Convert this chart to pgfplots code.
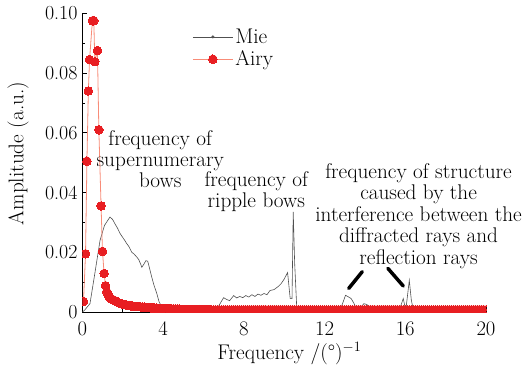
\documentclass[border=0pt]{standalone}
\usepackage{pgfplots}
\pgfplotsset{compat=1.18}
\definecolor{airyred}{RGB}{232,30,34}
\definecolor{airyline}{RGB}{248,140,120}
\definecolor{miegray}{RGB}{80,80,80}
\newcommand{\bigf}{\fontsize{21.3}{21.5}\selectfont}
\newcommand{\tickf}{\fontsize{20}{22}\selectfont}
\begin{document}
\begin{tikzpicture}
\useasboundingbox (-82.3bp,-58bp) rectangle (443.7bp,312bp);
\begin{axis}[
  at={(0,0)}, anchor=south west,
  scale only axis, width=403.7bp, height=298.7bp,
  xmin=0, xmax=20, ymin=0, ymax=0.1,
  axis x line*=bottom, axis y line*=left,
  axis line style={line width=1bp, black},
  tick align=inside,
  xtick={0,4,8,12,16,20}, minor xtick={2,6,10,14,18},
  ytick={0,0.02,0.04,0.06,0.08,0.1},
  yticklabels={0,0.02,0.04,0.06,0.08,0.10},
  minor ytick={0.01,0.03,0.05,0.07,0.09},
  scaled y ticks=false,
  major tick length=5bp, minor tick length=3bp,
  tick style={line width=0.8bp, black},
  ticklabel style={font=\tickf},
  yticklabel style={anchor=east, inner sep=0pt, xshift=-4.6bp},
  xticklabel style={anchor=base, inner sep=0pt, yshift=-23bp},
  xlabel={Frequency /(\textdegree)$^{-1}$},
  xlabel style={at={(axis description cs:0.5,0)}, anchor=base, inner sep=0pt, xshift=5.3bp, yshift=-47.3bp, font=\bigf},
  ylabel={Amplitude (a.u.)},
  ylabel style={at={(axis description cs:-0.1593,0.5306)}, anchor=center, inner sep=0pt, font=\bigf},
  clip mode=individual, clip marker paths=true,
  legend style={draw=none, fill=none, at={(axis cs:5.45,0.0955)}, anchor=north west, font=\bigf, inner sep=0pt, row sep=2bp, nodes={inner sep=2bp}},
  legend cell align=left,
  legend image code/.code={\draw[mark repeat=2,mark phase=2,#1] plot coordinates {(0bp,0bp) (20bp,0bp) (40bp,0bp)};},
]
\addplot[miegray, line width=0.6bp, forget plot] coordinates {
(0,0) (0.1,0.0005) (0.38,0.0028) (0.6,0.012) (0.88,0.024) (1.1,0.029) (1.37,0.0318)
(1.5,0.031) (1.62,0.0295) (1.75,0.028) (1.87,0.0263) (2.0,0.025) (2.1,0.024) (2.2,0.0229)
(2.3,0.022) (2.45,0.020) (2.55,0.0195) (2.7,0.0184) (2.8,0.0175) (2.88,0.0162) (2.95,0.015)
(3.05,0.016) (3.15,0.0172) (3.24,0.017) (3.3,0.0155) (3.44,0.0117) (3.55,0.009) (3.69,0.0062)
(3.8,0.0035) (3.94,0.0017) (4.05,0.0005) (4.2,0) (5.6,0) (5.8,0.0022) (5.95,0.0012) (6.1,0)
(6.6,0) (6.8,0.0025) (7.0,0.0048) (7.15,0.0042) (7.3,0.0038) (7.5,0.0055) (7.65,0.0047)
(7.8,0.0052) (7.95,0.0048) (8.1,0.0055) (8.25,0.005) (8.4,0.0058) (8.55,0.0052) (8.7,0.006)
(8.85,0.0056) (9.0,0.0062) (9.15,0.0058) (9.3,0.0072) (9.5,0.0075) (9.7,0.0085) (9.85,0.0095)
(10.0,0.011) (10.17,0.0132) (10.3,0.0045) (10.39,0.0045) (10.45,0.0335) (10.52,0.0165)
(10.62,0.002) (10.7,0) (12.7,0) (12.85,0.002) (13.04,0.0056) (13.2,0.005) (13.32,0.0045)
(13.45,0.003) (13.55,0.0015) (13.75,0.0012) (13.95,0.0028) (14.1,0.0025) (14.25,0.0012)
(14.5,0) (14.8,0.0015) (15.5,0.0015) (15.7,0.0008) (15.8,0.0025) (15.9,0.0045) (15.98,0.002)
(16.05,0.002) (16.2,0.0106) (16.3,0.004) (16.42,0) (20,0)
};
\addlegendimage{miegray, line width=0.6bp, mark=*, mark size=1.2bp}
\addlegendentry{Mie}
\addplot[airyline, line width=0.8bp, mark=*, mark size=4.3bp, mark options={fill=airyred, draw=airyred, line width=0pt}] coordinates {
(0.06,0.0035) (0.16,0.0195) (0.23,0.0505) (0.30,0.0740) (0.36,0.0845) (0.50,0.0975)
(0.57,0.0975) (0.62,0.0838) (0.75,0.0875) (0.82,0.0610) (0.93,0.0355) (1.00,0.0203)
(1.08,0.0129) (1.15,0.0088) (1.21,0.0068) (1.27,0.0058) (1.33,0.0051) (1.40,0.0046)
(1.47,0.0043) (1.55,0.0040) (1.63,0.0037) (1.71,0.0034) (1.80,0.0031) (1.90,0.0028)
(2.00,0.0026) (2.10,0.0025) (2.2,0.0023) (2.3,0.0022) (2.4,0.0021) (2.5,0.0020)
(2.6,0.0019) (2.7,0.0018) (2.8,0.0018) (2.9,0.0017) (3.0,0.0016) (3.1,0.0016)
(3.2,0.0015) (3.3,0.0015) (3.4,0.0014) (3.5,0.0014) (3.6,0.0013) (3.7,0.0013)
(3.8,0.0012) (3.9,0.0012) (4.0,0.0012) (4.1,0.0011) (4.2,0.0011) (4.3,0.0011)
(4.4,0.0011) (4.5,0.0010) (4.6,0.0010) (4.7,0.0010) (4.8,0.0010) (4.9,0.0009)
(5.0,0.0009) (5.1,0.0009) (5.2,0.0009) (5.3,0.0009) (5.4,0.0009) (5.5,0.0008)
(5.6,0.0008) (5.7,0.0008) (5.8,0.0008) (5.9,0.0008) (6.0,0.0008) (6.1,0.0008)
(6.2,0.0008) (6.3,0.0008) (6.4,0.0007) (6.5,0.0007) (6.6,0.0007) (6.7,0.0007)
(6.8,0.0007) (6.9,0.0007) (7.0,0.0007) (7.1,0.0007) (7.2,0.0007) (7.3,0.0007)
(7.4,0.0007) (7.5,0.0007) (7.6,0.0007) (7.7,0.0007) (7.8,0.0007) (7.9,0.0007)
(8.0,0.0007) (8.1,0.0007) (8.2,0.0007) (8.3,0.0007) (8.4,0.0007) (8.5,0.0007)
(8.6,0.0007) (8.7,0.0007) (8.8,0.0007) (8.9,0.0007) (9.0,0.0007) (9.1,0.0007)
(9.2,0.0007) (9.3,0.0007) (9.4,0.0007) (9.5,0.0007) (9.6,0.0007) (9.7,0.0007)
(9.8,0.0007) (9.9,0.0007) (10.0,0.0007) (10.1,0.0007) (10.2,0.0007) (10.3,0.0007)
(10.4,0.0007) (10.5,0.0007) (10.6,0.0007) (10.7,0.0007) (10.8,0.0007) (10.9,0.0007)
(11.0,0.0007) (11.1,0.0007) (11.2,0.0007) (11.3,0.0007) (11.4,0.0007) (11.5,0.0007)
(11.6,0.0007) (11.7,0.0007) (11.8,0.0007) (11.9,0.0007) (12.0,0.0007) (12.1,0.0007)
(12.2,0.0007) (12.3,0.0007) (12.4,0.0007) (12.5,0.0007) (12.6,0.0007) (12.7,0.0007)
(12.8,0.0007) (12.9,0.0007) (13.0,0.0007) (13.1,0.0007) (13.2,0.0007) (13.3,0.0007)
(13.4,0.0007) (13.5,0.0007) (13.6,0.0007) (13.7,0.0007) (13.8,0.0007) (13.9,0.0007)
(14.0,0.0007) (14.1,0.0007) (14.2,0.0007) (14.3,0.0007) (14.4,0.0007) (14.5,0.0007)
(14.6,0.0007) (14.7,0.0007) (14.8,0.0007) (14.9,0.0007) (15.0,0.0007) (15.1,0.0007)
(15.2,0.0007) (15.3,0.0007) (15.4,0.0007) (15.5,0.0007) (15.6,0.0007) (15.7,0.0007)
(15.8,0.0007) (15.9,0.0007) (16.0,0.0007) (16.1,0.0007) (16.2,0.0007) (16.3,0.0007)
(16.4,0.0007) (16.5,0.0007) (16.6,0.0007) (16.7,0.0007) (16.8,0.0007) (16.9,0.0007)
(17.0,0.0007) (17.1,0.0007) (17.2,0.0007) (17.3,0.0007) (17.4,0.0007) (17.5,0.0007)
(17.6,0.0007) (17.7,0.0007) (17.8,0.0007) (17.9,0.0007) (18.0,0.0007) (18.1,0.0007)
(18.2,0.0007) (18.3,0.0007) (18.4,0.0007) (18.5,0.0007) (18.6,0.0007) (18.7,0.0007)
(18.8,0.0007) (18.9,0.0007) (19.0,0.0007) (19.1,0.0007) (19.2,0.0007) (19.3,0.0007)
(19.4,0.0007) (19.5,0.0007) (19.6,0.0007) (19.7,0.0007) (19.8,0.0007) (19.9,0.0007)
(20.0,0.0007)
};
\addlegendentry{Airy}
\node[align=center, font=\bigf, inner sep=0pt] at (axis cs:3.86,0.0512) {frequency of\\supernumerary\\bows};
\node[align=center, font=\bigf, inner sep=0pt] at (axis cs:8.62,0.0403) {frequency of\\ripple bows};
\node[align=center, font=\bigf, inner sep=0pt] at (axis cs:16.66,0.0321) {frequency of structure\\caused by the\\interference between the\\diffracted rays and\\reflection rays};
\draw[line width=3.5bp, line cap=round] (axis cs:13.87,0.0135) -- (axis cs:13.20,0.0079);
\draw[line width=3.5bp, line cap=round] (axis cs:15.14,0.0146) -- (axis cs:15.90,0.0087);
\end{axis}
\end{tikzpicture}
\end{document}
